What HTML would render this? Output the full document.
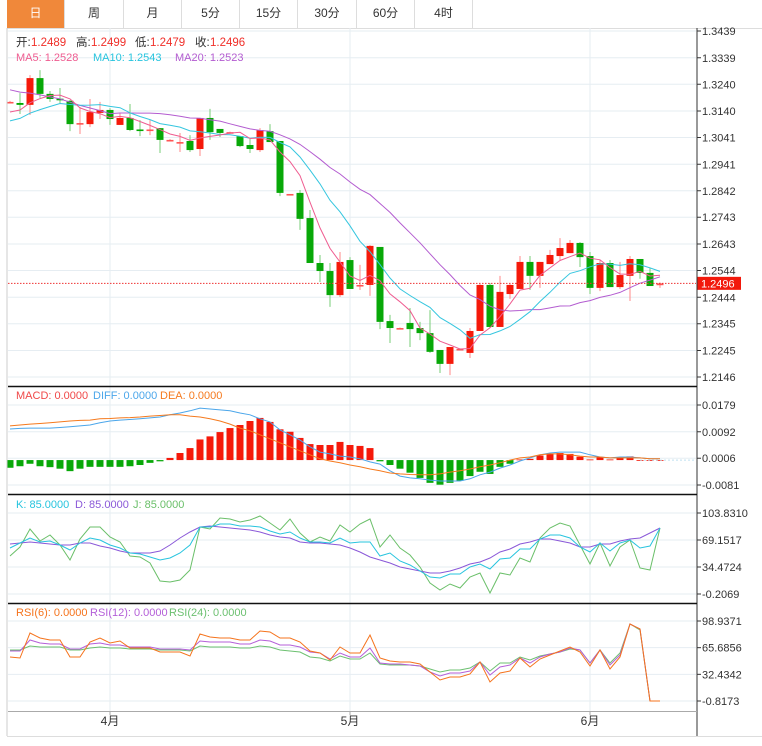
<!DOCTYPE html>
<html><head><meta charset="utf-8">
<style>
html,body{margin:0;padding:0;background:#fff;}
body{width:762px;height:746px;overflow:hidden;position:relative;font-family:"Liberation Sans","Noto Sans CJK SC",sans-serif;}
.tabs{position:absolute;left:7px;top:0;height:28px;width:755px;border-bottom:1px solid #ddd;}
.tab{position:absolute;top:0;height:28px;line-height:27px;text-align:center;font-size:12px;color:#333;border-right:1px solid #ddd;box-sizing:border-box;}
.tab.on{background:#f0883a;color:#fff;}
svg{position:absolute;left:0;top:0;}
</style></head><body>
<div class="tabs">
<div class="tab on" style="left:0;width:58px">日</div>
<div class="tab" style="left:58px;width:59px">周</div>
<div class="tab" style="left:117px;width:58px">月</div>
<div class="tab" style="left:175px;width:58px">5分</div>
<div class="tab" style="left:233px;width:58px">15分</div>
<div class="tab" style="left:291px;width:59px">30分</div>
<div class="tab" style="left:350px;width:58px">60分</div>
<div class="tab" style="left:408px;width:58px">4时</div>
</div>
<svg id="chart" width="762" height="746"></svg>
<script>
const opens=[1.3174,1.3170,1.3163,1.3263,1.3204,1.3186,1.3178,1.3091,1.3091,1.3133,1.3144,1.3088,1.3114,1.3071,1.3067,1.3076,1.3030,1.3022,1.3028,1.2998,1.3114,1.3073,1.3059,1.3046,1.3013,1.2994,1.3065,1.3028,1.2828,1.2834,1.2740,1.2572,1.2542,1.2452,1.2583,1.2488,1.2490,1.2632,1.2355,1.2327,1.2348,1.2329,1.2310,1.2247,1.2195,1.2249,1.2236,1.2318,1.2490,1.2333,1.2456,1.2475,1.2576,1.2524,1.2568,1.2598,1.2609,1.2647,1.2598,1.2479,1.2572,1.2482,1.2524,1.2587,1.2535,1.2489];
const highs=[1.3178,1.3207,1.3274,1.3293,1.3215,1.3226,1.3181,1.3155,1.3185,1.3174,1.3151,1.3133,1.3166,1.3106,1.3106,1.3076,1.3035,1.3058,1.3050,1.3114,1.3148,1.3073,1.3063,1.3046,1.3039,1.3076,1.3091,1.3028,1.2830,1.2845,1.2770,1.2602,1.2572,1.2613,1.2594,1.2565,1.2639,1.2632,1.2378,1.2331,1.2404,1.2352,1.2396,1.2247,1.2258,1.2253,1.2329,1.2497,1.2497,1.2524,1.2497,1.2598,1.2598,1.2576,1.2621,1.2665,1.2658,1.2650,1.2613,1.2583,1.2583,1.2576,1.2598,1.2587,1.2553,1.2499];
const lows=[1.3170,1.3129,1.3125,1.3189,1.3174,1.3170,1.3065,1.3054,1.3080,1.3110,1.3088,1.3088,1.3065,1.3046,1.3050,1.2983,1.3028,1.2987,1.2987,1.2972,1.3032,1.3043,1.3055,1.3005,1.2983,1.2987,1.3024,1.2822,1.2826,1.2696,1.2572,1.2501,1.2408,1.2445,1.2475,1.2471,1.2449,1.2325,1.2273,1.2325,1.2258,1.2284,1.2236,1.2161,1.2153,1.2247,1.2217,1.2318,1.2329,1.2333,1.2438,1.2475,1.2471,1.2479,1.2568,1.2583,1.2609,1.2557,1.2456,1.2467,1.2482,1.2475,1.2430,1.2513,1.2486,1.2479];
const closes=[1.3174,1.3163,1.3263,1.3204,1.3185,1.3183,1.3091,1.3095,1.3136,1.3144,1.3110,1.3114,1.3069,1.3067,1.3071,1.3032,1.3032,1.3024,1.2994,1.3114,1.3061,1.3058,1.3061,1.3009,1.2998,1.3069,1.3024,1.2834,1.2830,1.2737,1.2572,1.2542,1.2452,1.2576,1.2475,1.2490,1.2636,1.2352,1.2329,1.2329,1.2325,1.2310,1.2240,1.2195,1.2258,1.2251,1.2318,1.2490,1.2333,1.2464,1.2490,1.2576,1.2524,1.2576,1.2602,1.2628,1.2647,1.2594,1.2479,1.2572,1.2482,1.2527,1.2587,1.2535,1.2486,1.2496];
const seedCloses=[1.3335,1.3335,1.3335,1.3335,1.3335,1.3335,1.3335,1.3335,1.3335,1.3335,1.3070,1.3070,1.3070,1.3070,1.3070,1.3127,1.3127,1.3127,1.3127];
const priceTicks=[1.3439,1.3339,1.3240,1.3140,1.3041,1.2941,1.2842,1.2743,1.2643,1.2544,1.2444,1.2345,1.2245,1.2146];
const macdHist=[-0.0025,-0.0020,-0.0012,-0.0020,-0.0023,-0.0028,-0.0036,-0.0028,-0.0022,-0.0022,-0.0022,-0.0022,-0.0020,-0.0016,-0.0009,-0.0004,0.0007,0.0023,0.0039,0.0067,0.0077,0.0091,0.0104,0.0114,0.0127,0.0137,0.0124,0.0100,0.0092,0.0072,0.0052,0.0049,0.0049,0.0059,0.0049,0.0046,0.0039,-0.0004,-0.0016,-0.0028,-0.0041,-0.0058,-0.0074,-0.0080,-0.0074,-0.0067,-0.0052,-0.0038,-0.0045,-0.0022,-0.0012,0.0002,0.0004,0.0015,0.0020,0.0023,0.0020,0.0011,0.0002,0.0009,0.0002,0.0010,0.0012,0.0000,0.0000,0.0000];
const diffVals=[0.0101,0.0103,0.0104,0.0104,0.0104,0.0106,0.0108,0.0111,0.0114,0.0121,0.0127,0.0130,0.0132,0.0134,0.0137,0.0140,0.0147,0.0153,0.0160,0.0169,0.0166,0.0163,0.0160,0.0153,0.0147,0.0134,0.0124,0.0098,0.0082,0.0065,0.0043,0.0026,0.0020,0.0013,0.0010,0.0004,-0.0006,-0.0013,-0.0035,-0.0052,-0.0058,-0.0061,-0.0065,-0.0068,-0.0068,-0.0068,-0.0061,-0.0048,-0.0039,-0.0026,-0.0016,-0.0003,0.0007,0.0017,0.0023,0.0026,0.0026,0.0026,0.0017,0.0010,0.0007,0.0010,0.0010,0.0007,0.0004,0.0004];
const deaVals=[0.0111,0.0114,0.0117,0.0119,0.0121,0.0124,0.0127,0.0129,0.0130,0.0134,0.0135,0.0137,0.0138,0.0140,0.0143,0.0145,0.0147,0.0147,0.0143,0.0140,0.0134,0.0127,0.0117,0.0104,0.0095,0.0082,0.0069,0.0056,0.0043,0.0030,0.0017,0.0004,-0.0003,-0.0009,-0.0016,-0.0022,-0.0029,-0.0035,-0.0042,-0.0045,-0.0047,-0.0048,-0.0048,-0.0045,-0.0039,-0.0035,-0.0029,-0.0022,-0.0016,-0.0009,0.0000,0.0007,0.0010,0.0017,0.0020,0.0020,0.0017,0.0013,0.0010,0.0010,0.0007,0.0007,0.0007,0.0007,0.0004,0.0004];
const macdTicks=[0.0179,0.0092,0.0006,-0.0081];
const kVals=[58.9,65.3,71.7,66.6,67.9,62.7,56.3,65.3,71.7,69.2,62.7,58.9,52.5,51.2,47.3,43.5,46.0,52.5,62.7,85.8,85.8,89.7,89.7,87.1,87.1,85.8,80.7,76.9,79.4,71.7,66.6,66.6,65.3,71.7,65.3,66.6,66.6,48.6,52.5,42.2,37.0,29.3,21.6,20.3,25.5,25.5,34.5,38.3,31.9,44.7,46.0,57.6,57.6,70.4,75.6,75.6,71.7,60.2,53.7,65.3,55.0,65.3,69.2,58.9,61.4,84.6];
const dVals=[64.0,65.3,66.6,65.3,64.0,62.7,62.7,65.3,65.3,61.4,58.9,55.0,52.5,52.5,52.5,55.0,62.7,71.7,79.4,85.8,87.1,85.8,84.6,83.3,82.0,79.4,75.6,73.0,71.7,66.6,65.3,65.3,64.0,62.7,58.9,53.7,47.3,43.5,39.6,34.5,31.9,29.3,26.8,26.8,29.3,33.2,38.3,40.9,46.0,53.7,57.6,64.0,66.6,70.4,70.4,67.9,65.3,60.2,60.2,64.0,64.0,67.9,70.4,71.7,78.1,84.6];
const jVals=[48.6,60.2,83.3,67.9,75.6,62.7,43.5,70.4,85.8,85.8,73.0,66.6,48.6,47.3,39.6,16.5,15.2,17.8,30.6,85.8,83.3,97.4,96.1,92.3,94.8,100.0,91.0,82.0,96.1,78.1,66.6,73.0,67.9,88.4,79.4,89.7,96.1,60.2,75.6,58.9,49.9,34.5,13.9,4.9,12.6,7.5,21.6,26.8,1.1,26.8,24.2,46.0,40.9,71.7,84.6,91.0,87.1,62.7,38.3,65.3,35.8,60.2,69.2,33.2,30.6,84.6];
const kdjTicks=[103.8310,69.1517,34.4724,-0.2069];
const rsi6=[54.0,52.8,84.0,77.7,75.2,75.2,54.0,54.0,72.7,77.7,71.5,74.0,65.3,65.3,65.3,60.3,60.3,60.3,55.3,82.7,79.0,77.7,77.7,75.2,75.2,86.5,85.2,77.7,77.7,72.7,61.5,59.0,50.3,66.5,59.0,59.0,81.5,52.8,49.1,47.8,47.8,45.3,35.3,25.4,29.1,29.1,32.8,47.8,22.9,34.1,36.6,52.8,41.6,51.5,56.5,61.5,66.5,60.3,42.8,62.8,39.1,54.0,95.2,89.0,-0.8,-0.8];
const rsi12=[61.5,61.5,75.2,71.5,70.3,70.3,64.0,64.0,70.3,71.5,69.0,69.0,66.5,66.5,66.5,64.0,64.0,64.0,62.8,74.0,72.7,72.7,72.7,70.3,70.3,75.2,74.0,69.0,69.0,66.5,60.3,59.0,51.5,59.0,54.0,54.0,65.3,46.6,45.3,45.3,44.1,42.8,35.3,30.3,34.1,34.1,36.6,47.8,31.6,41.6,44.1,52.8,46.6,54.0,57.8,60.3,65.3,62.8,46.6,62.8,44.1,56.5,95.2,89.0,-0.8,-0.8];
const rsi24=[62.8,62.8,67.8,66.5,66.5,66.5,62.8,62.8,65.3,66.5,65.3,65.3,64.0,64.0,64.0,62.8,62.8,62.8,61.5,67.8,66.5,66.5,66.5,65.3,65.3,67.8,66.5,62.8,61.5,60.3,54.0,52.8,49.1,55.3,51.5,51.5,59.0,45.3,44.1,44.1,44.1,42.8,39.1,35.3,37.8,37.8,40.3,47.8,36.6,46.6,46.6,54.0,50.3,55.3,57.8,60.3,64.0,62.8,46.6,62.8,46.6,59.0,95.2,87.7,-0.8,-0.8];
const rsiTicks=[98.9371,65.6856,32.4342,-0.8173];
const monthLabels=['4月','5月','6月'];
const monthIndex=[10,34,58];
const lastPrice=1.2496;

const NS='http://www.w3.org/2000/svg';
const svg=document.getElementById('chart');
function mk(tag,attrs,parent){const e=document.createElementNS(NS,tag);for(const k in attrs)e.setAttribute(k,attrs[k]);(parent||svg).appendChild(e);return e;}
const L=8,R=696;
const xAt=i=>10+i*10;
function lin(v0,y0,v1,y1){return v=>y0+(v-v0)*(y1-y0)/(v1-v0);}
const yP=lin(1.3439,31,1.2146,377);
const yM=lin(0.0179,405,-0.0081,485);
const yK=lin(103.831,513,-0.2069,594);
const yR=lin(98.9371,621,-0.8173,701);

function hgrid(ticks,fy,name){ticks.forEach(t=>{const g=mk('line',{x1:L,x2:R,y1:fy(t),y2:fy(t),stroke:'#e6edf2','stroke-width':1});

});}
hgrid(priceTicks,yP,'price-gridline');hgrid(macdTicks,yM,'macd-gridline');hgrid(kdjTicks,yK,'kdj-gridline');hgrid(rsiTicks,yR,'rsi-gridline');
monthIndex.forEach(i=>{const g=mk('line',{x1:xAt(i),x2:xAt(i),y1:28,y2:711,stroke:'#e6edf2'});

});

function axis(ticks,fy,name,fmt){ticks.forEach(t=>{const y=fy(t);mk('line',{x1:697,x2:701,y1:y,y2:y,stroke:'#333'});
const tx=mk('text',{x:702,y:y+4,'font-size':'11',fill:'#333'});tx.textContent=fmt(t);

});}
axis(priceTicks,yP,'price-tick-label',t=>t.toFixed(4));
axis(macdTicks,yM,'macd-tick-label',t=>t.toFixed(4));
axis(kdjTicks,yK,'kdj-tick-label',t=>t.toFixed(4));
axis(rsiTicks,yR,'rsi-tick-label',t=>t.toFixed(4));

const UP='#f5190a',DN='#08a808';
closes.forEach((c,i)=>{const o=opens[i],x=xAt(i);
const doji=Math.abs(o-c)<0.0008;
const up=c>=o;const wc=up?'#f88':'#7c7';
const w=mk('line',{x1:x,x2:x,y1:yP(highs[i]),y2:yP(lows[i]),stroke:wc,'stroke-width':1});


const top=yP(Math.max(o,c)),h=Math.max(yP(Math.min(o,c))-top,1.6);
const b=mk('rect',{x:x-3.5,y:top,width:7,height:h,fill:up?(doji?'#f55':UP):(doji?'#0a0':DN)});

});

const all=seedCloses.concat(closes);
function ma(n){return closes.map((c,i)=>{const e=i+seedCloses.length;let s=0;for(let k=e-n+1;k<=e;k++)s+=all[k];return s/n;});}
function poly(vals,fy,color,name){const p=mk('polyline',{points:vals.map((v,i)=>xAt(i)+','+fy(v).toFixed(1)).join(' '),fill:'none',stroke:color,'stroke-width':1});

return p;}
poly(ma(20),yP,'#b35cd0','ma20-line');
poly(ma(10),yP,'#35c6df','ma10-line');
poly(ma(5),yP,'#ef5c90','ma5-line');

const ly=yP(lastPrice);
const lp=mk('line',{x1:L,x2:R,y1:ly,y2:ly,stroke:'#e33','stroke-width':1,'stroke-dasharray':'1.5,1.5'});


const lb=mk('rect',{x:697,y:ly-6.5,width:44,height:13,fill:'#f2190c'});


const lt=mk('text',{x:701,y:ly+4,'font-size':'11',fill:'#fff'});lt.textContent=lastPrice.toFixed(4);



const z=yM(0);
macdHist.forEach((v,i)=>{const y=yM(v);const r=mk('rect',{x:xAt(i)-3.5,y:Math.min(y,z),width:7,height:Math.max(Math.abs(y-z),0.8),fill:v>=0?UP:DN});

});
const zl=mk('line',{x1:xAt(63),x2:R,y1:z,y2:z,stroke:'#bfe0f0','stroke-dasharray':'2,2'});


poly(diffVals,yM,'#4ba6ea','diff-line');
poly(deaVals,yM,'#f57a1e','dea-line');

poly(jVals,yK,'#6abf69','kdj-j-line');
poly(dVals,yK,'#8a58d8','kdj-d-line');
poly(kVals,yK,'#27c4de','kdj-k-line');

poly(rsi24,yR,'#6cc070','rsi24-line');
poly(rsi12,yR,'#b45fd8','rsi12-line');
poly(rsi6,yR,'#f5731c','rsi6-line');

[[7,28,7,736,'#ccc'],[697,28,697,736,'#333'],[8,386.5,697,386.5,'#111'],[8,494.5,697,494.5,'#111'],[8,603.5,697,603.5,'#111'],[8,711.5,697,711.5,'#aaa'],[7,736.5,762,736.5,'#ddd']].forEach(a=>{
const f=mk('line',{x1:a[0],y1:a[1],x2:a[2],y2:a[3],stroke:a[4],'stroke-width':a[4]=='#111'?1.5:1});

});

monthIndex.forEach((i,k)=>{mk('line',{x1:xAt(i),x2:xAt(i),y1:711,y2:715,stroke:'#aaa'});
const t=mk('text',{x:xAt(i),y:725,'font-size':'12',fill:'#333','text-anchor':'middle'});t.textContent=monthLabels[k];

});

function legend(y,items,name){let g=mk('text',{y:y,'font-size':'11'});

items.forEach(it=>{const s=mk('tspan',{x:it[0],fill:it[2]},g);s.textContent=it[1];});}
const ohlcT=mk('text',{y:46,'font-size':'11.5'});


[[16,'开:','#333'],[31,'1.2489','#f0302a'],[76,'高:','#333'],[91,'1.2499','#f0302a'],[135,'低:','#333'],[150,'1.2479','#f0302a'],[195,'收:','#333'],[210,'1.2496','#f0302a']].forEach(it=>{const s=mk('tspan',{x:it[0],fill:it[2]},ohlcT);s.textContent=it[1];});
legend(61,[[16,'MA5: 1.2528','#ef5c90'],[93,'MA10: 1.2543','#27c4de'],[175,'MA20: 1.2523','#b35cd0']],'ma-legend');
legend(399,[[16,'MACD: 0.0000','#f04848'],[93,'DIFF: 0.0000','#4ba6ea'],[160,'DEA: 0.0000','#f57a1e']],'macd-legend');
legend(508,[[16,'K: 85.0000','#27c4de'],[75,'D: 85.0000','#8a58d8'],[133,'J: 85.0000','#6abf69']],'kdj-legend');
legend(616,[[16,'RSI(6): 0.0000','#f5731c'],[90,'RSI(12): 0.0000','#b45fd8'],[169,'RSI(24): 0.0000','#6cc070']],'rsi-legend');
</script>
</body></html>
